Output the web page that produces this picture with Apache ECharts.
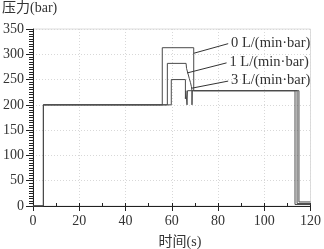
<!DOCTYPE html>
<html><head><meta charset="utf-8">
<script src="https://cdn.jsdelivr.net/npm/echarts@6/dist/echarts.min.js"></script>
<style>html,body{margin:0;padding:0;background:#fff}#c{width:324px;height:249px}</style>
</head><body><div id="c"></div>
<script>
// ---- data ----
const yTicks = [0, 50, 100, 150, 200, 250, 300, 350];
const xTicks = [0, 20, 40, 60, 80, 100, 120];
const seriesNames = ['0 L/(min·bar)', '1 L/(min·bar)', '3 L/(min·bar)'];

const time0 = [0, 4.5, 4.5, 55.9, 55.9, 69.5, 69.5, 115.0, 115.0, 120];
const press0 = [0, 0, 200, 200, 313, 313, 228, 228, 8, 8];

const time1 = [0, 4.5, 4.5, 58.1, 58.1, 66.2, 66.4, 67.0, 67.6, 68.1, 68.5, 68.7, 68.75, 68.9, 114.2, 114.2, 120];
const press1 = [0, 0, 200, 200, 282, 282, 272, 262, 252, 244, 236, 229, 200, 228, 228, 5, 5];

const time3 = [0, 4.5, 4.5, 59.8, 59.8, 65.9, 65.9, 66.1, 66.6, 66.6, 66.8, 113.3, 113.3, 120];
const press3 = [0, 0, 200, 200, 250, 250, 212, 228, 228, 200, 228, 228, 3, 3];

// leader lines for annotations: [start time, start pressure, end time, end pressure]
const leader0 = [69.5, 302, 84.4, 321];
const leader1 = [66.6, 263, 83.7, 283];
const leader3 = [68.7, 233, 84.4, 247];

const serif = "'Liberation Serif', 'Times New Roman', 'Noto Sans CJK SC', serif";
const lineColor = '#4a4a4a';

function pairs(t, p) { return t.map((v, i) => [v, p[i]]); }
function mk(name, t, p, leader) {
  return {
    name: name, type: 'line', data: pairs(t, p), showSymbol: false, symbol: 'none',
    lineStyle: { color: lineColor, width: 1 }, animation: false,
    markLine: {
      silent: true, symbol: 'none', animation: false,
      lineStyle: { color: '#333', width: 1, type: 'solid' },
      label: { show: true, position: 'end', formatter: name, distance: 3,
        color: '#333', fontFamily: serif, fontSize: 14.5 },
      data: [[{ coord: [leader[0], leader[1]] }, { coord: [leader[2], leader[3]] }]]
    }
  };
}

const chart = echarts.init(document.getElementById('c'), null, { renderer: 'canvas' });
chart.setOption({
  backgroundColor: '#fff',
  animation: false,
  grid: { left: 32, right: 11.5, top: 29, bottom: 43, show: true, borderColor: '#dcdcdc', borderWidth: 1 },
  xAxis: [{
    type: 'value', min: 0, max: 120, interval: 20,
    axisLine: { lineStyle: { color: '#222', width: 1 } },
    axisTick: { show: true, length: 5, lineStyle: { color: '#222' } },
    axisLabel: { color: '#333', fontFamily: serif, fontSize: 14, margin: 8,
      formatter: v => xTicks.includes(v) ? String(v) : '' },
    splitLine: { show: true, lineStyle: { color: '#d8d8d8', type: [1, 2] } }
  }, {
    type: 'value', min: 0, max: 120, interval: 10, position: 'bottom',
    axisLine: { show: false },
    axisTick: { show: true, inside: true, length: 3, lineStyle: { color: '#222' } },
    axisLabel: { show: false }, splitLine: { show: false }
  }],
  yAxis: {
    type: 'value', min: 0, max: 350, interval: 50,
    axisLine: { show: true, lineStyle: { color: '#222', width: 1 } },
    axisTick: { show: true, length: 7, lineStyle: { color: '#222' } },
    minorTick: { show: true, splitNumber: 10, length: 4, lineStyle: { color: '#222' } },
    axisLabel: { color: '#333', fontFamily: serif, fontSize: 14, margin: 9,
      formatter: v => yTicks.includes(v) ? String(v) : '' },
    splitLine: { show: true, lineStyle: { color: '#d8d8d8', type: [1, 2] } }
  },
  graphic: [
    { type: 'text', left: 2, top: 1, style: { text: '压力(bar)', fill: '#333', font: "14px " + serif } },
    { type: 'text', x: 180, y: 242, style: { text: '时间(s)', fill: '#333', font: "14px " + serif, align: 'center', verticalAlign: 'middle' } }
  ],
  series: [
    mk(seriesNames[0], time0, press0, leader0),
    mk(seriesNames[1], time1, press1, leader1),
    mk(seriesNames[2], time3, press3, leader3)
  ]
});
</script></body></html>
